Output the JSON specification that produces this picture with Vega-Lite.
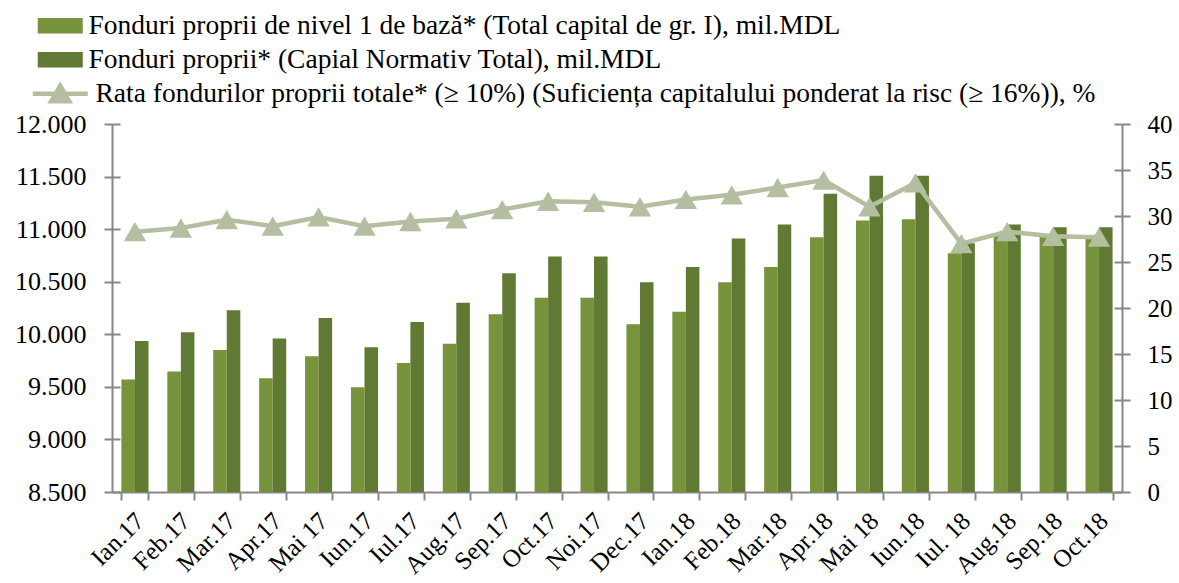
{
  "$schema": "https://vega.github.io/schema/vega-lite/v6.json",
  "width": 1010,
  "height": 368,
  "autosize": {"type": "none"},
  "padding": {"left": 112, "top": 124, "right": 57, "bottom": 91},
  "background": "white",
  "config": {
    "view": {"stroke": null},
    "font": "Liberation Serif",
    "axis": {
      "domainColor": "#878787",
      "tickColor": "#878787",
      "domainWidth": 2,
      "tickWidth": 2,
      "grid": false,
      "labelColor": "black",
      "labelFont": "Liberation Serif"
    },
    "legend": {"labelFont": "Liberation Serif", "labelColor": "black", "labelLimit": 0, "padding": 0}
  },
  "datasets": {
    "bars": [
      {"luna": "Ian.17", "serie": "Fonduri proprii de nivel 1 de bază* (Total capital de gr. I), mil.MDL", "valoare": 9570},
      {"luna": "Ian.17", "serie": "Fonduri proprii* (Capial Normativ Total), mil.MDL", "valoare": 9935},
      {"luna": "Feb.17", "serie": "Fonduri proprii de nivel 1 de bază* (Total capital de gr. I), mil.MDL", "valoare": 9645},
      {"luna": "Feb.17", "serie": "Fonduri proprii* (Capial Normativ Total), mil.MDL", "valoare": 10020},
      {"luna": "Mar.17", "serie": "Fonduri proprii de nivel 1 de bază* (Total capital de gr. I), mil.MDL", "valoare": 9850},
      {"luna": "Mar.17", "serie": "Fonduri proprii* (Capial Normativ Total), mil.MDL", "valoare": 10228},
      {"luna": "Apr.17", "serie": "Fonduri proprii de nivel 1 de bază* (Total capital de gr. I), mil.MDL", "valoare": 9583},
      {"luna": "Apr.17", "serie": "Fonduri proprii* (Capial Normativ Total), mil.MDL", "valoare": 9961},
      {"luna": "Mai 17", "serie": "Fonduri proprii de nivel 1 de bază* (Total capital de gr. I), mil.MDL", "valoare": 9790},
      {"luna": "Mai 17", "serie": "Fonduri proprii* (Capial Normativ Total), mil.MDL", "valoare": 10155},
      {"luna": "Iun.17", "serie": "Fonduri proprii de nivel 1 de bază* (Total capital de gr. I), mil.MDL", "valoare": 9497},
      {"luna": "Iun.17", "serie": "Fonduri proprii* (Capial Normativ Total), mil.MDL", "valoare": 9876},
      {"luna": "Iul.17", "serie": "Fonduri proprii de nivel 1 de bază* (Total capital de gr. I), mil.MDL", "valoare": 9726},
      {"luna": "Iul.17", "serie": "Fonduri proprii* (Capial Normativ Total), mil.MDL", "valoare": 10117},
      {"luna": "Aug.17", "serie": "Fonduri proprii de nivel 1 de bază* (Total capital de gr. I), mil.MDL", "valoare": 9910},
      {"luna": "Aug.17", "serie": "Fonduri proprii* (Capial Normativ Total), mil.MDL", "valoare": 10300},
      {"luna": "Sep.17", "serie": "Fonduri proprii de nivel 1 de bază* (Total capital de gr. I), mil.MDL", "valoare": 10190},
      {"luna": "Sep.17", "serie": "Fonduri proprii* (Capial Normativ Total), mil.MDL", "valoare": 10580},
      {"luna": "Oct.17", "serie": "Fonduri proprii de nivel 1 de bază* (Total capital de gr. I), mil.MDL", "valoare": 10348},
      {"luna": "Oct.17", "serie": "Fonduri proprii* (Capial Normativ Total), mil.MDL", "valoare": 10739},
      {"luna": "Noi.17", "serie": "Fonduri proprii de nivel 1 de bază* (Total capital de gr. I), mil.MDL", "valoare": 10348},
      {"luna": "Noi.17", "serie": "Fonduri proprii* (Capial Normativ Total), mil.MDL", "valoare": 10739},
      {"luna": "Dec.17", "serie": "Fonduri proprii de nivel 1 de bază* (Total capital de gr. I), mil.MDL", "valoare": 10095},
      {"luna": "Dec.17", "serie": "Fonduri proprii* (Capial Normativ Total), mil.MDL", "valoare": 10495},
      {"luna": "Ian.18", "serie": "Fonduri proprii de nivel 1 de bază* (Total capital de gr. I), mil.MDL", "valoare": 10215},
      {"luna": "Ian.18", "serie": "Fonduri proprii* (Capial Normativ Total), mil.MDL", "valoare": 10641},
      {"luna": "Feb.18", "serie": "Fonduri proprii de nivel 1 de bază* (Total capital de gr. I), mil.MDL", "valoare": 10495},
      {"luna": "Feb.18", "serie": "Fonduri proprii* (Capial Normativ Total), mil.MDL", "valoare": 10910},
      {"luna": "Mar.18", "serie": "Fonduri proprii de nivel 1 de bază* (Total capital de gr. I), mil.MDL", "valoare": 10641},
      {"luna": "Mar.18", "serie": "Fonduri proprii* (Capial Normativ Total), mil.MDL", "valoare": 11044},
      {"luna": "Apr.18", "serie": "Fonduri proprii de nivel 1 de bază* (Total capital de gr. I), mil.MDL", "valoare": 10923},
      {"luna": "Apr.18", "serie": "Fonduri proprii* (Capial Normativ Total), mil.MDL", "valoare": 11336},
      {"luna": "Mai 18", "serie": "Fonduri proprii de nivel 1 de bază* (Total capital de gr. I), mil.MDL", "valoare": 11082},
      {"luna": "Mai 18", "serie": "Fonduri proprii* (Capial Normativ Total), mil.MDL", "valoare": 11507},
      {"luna": "Iun.18", "serie": "Fonduri proprii de nivel 1 de bază* (Total capital de gr. I), mil.MDL", "valoare": 11095},
      {"luna": "Iun.18", "serie": "Fonduri proprii* (Capial Normativ Total), mil.MDL", "valoare": 11507},
      {"luna": "Iul. 18", "serie": "Fonduri proprii de nivel 1 de bază* (Total capital de gr. I), mil.MDL", "valoare": 10770},
      {"luna": "Iul. 18", "serie": "Fonduri proprii* (Capial Normativ Total), mil.MDL", "valoare": 10866},
      {"luna": "Aug.18", "serie": "Fonduri proprii de nivel 1 de bază* (Total capital de gr. I), mil.MDL", "valoare": 10960},
      {"luna": "Aug.18", "serie": "Fonduri proprii* (Capial Normativ Total), mil.MDL", "valoare": 11044},
      {"luna": "Sep.18", "serie": "Fonduri proprii de nivel 1 de bază* (Total capital de gr. I), mil.MDL", "valoare": 10950},
      {"luna": "Sep.18", "serie": "Fonduri proprii* (Capial Normativ Total), mil.MDL", "valoare": 11019},
      {"luna": "Oct.18", "serie": "Fonduri proprii de nivel 1 de bază* (Total capital de gr. I), mil.MDL", "valoare": 10940},
      {"luna": "Oct.18", "serie": "Fonduri proprii* (Capial Normativ Total), mil.MDL", "valoare": 11019}
    ],
    "rate": [
      {"luna": "Ian.17", "rata": 28.3},
      {"luna": "Feb.17", "rata": 28.7},
      {"luna": "Mar.17", "rata": 29.6},
      {"luna": "Apr.17", "rata": 28.9},
      {"luna": "Mai 17", "rata": 29.9},
      {"luna": "Iun.17", "rata": 28.9},
      {"luna": "Iul.17", "rata": 29.4},
      {"luna": "Aug.17", "rata": 29.7},
      {"luna": "Sep.17", "rata": 30.7},
      {"luna": "Oct.17", "rata": 31.6},
      {"luna": "Noi.17", "rata": 31.5},
      {"luna": "Dec.17", "rata": 31.0},
      {"luna": "Ian.18", "rata": 31.8},
      {"luna": "Feb.18", "rata": 32.3},
      {"luna": "Mar.18", "rata": 33.1},
      {"luna": "Apr.18", "rata": 33.9},
      {"luna": "Mai 18", "rata": 31.0},
      {"luna": "Iun.18", "rata": 33.6},
      {"luna": "Iul. 18", "rata": 27.0},
      {"luna": "Aug.18", "rata": 28.3},
      {"luna": "Sep.18", "rata": 27.8},
      {"luna": "Oct.18", "rata": 27.7}
    ]
  },
  "encoding": {
    "x": {
      "field": "luna",
      "type": "nominal",
      "sort": null,
      "title": null,
      "scale": {
        "domain": ["Ian.17", "Feb.17", "Mar.17", "Apr.17", "Mai 17", "Iun.17", "Iul.17", "Aug.17", "Sep.17", "Oct.17", "Noi.17", "Dec.17", "Ian.18", "Feb.18", "Mar.18", "Apr.18", "Mai 18", "Iun.18", "Iul. 18", "Aug.18", "Sep.18", "Oct.18"],
        "paddingInner": 0.41,
        "paddingOuter": 0.205
      },
      "axis": {
        "title": null,
        "labelAngle": -45,
        "labelAlign": "right",
        "labelBaseline": "top",
        "labelFontSize": 25,
        "labelOffset": -4,
        "tickBand": "extent",
        "tickSize": 8,
        "labelPadding": 8
      }
    }
  },
  "layer": [
    {
      "data": {"name": "bars"},
      "layer": [
        {
          "mark": {"type": "bar", "clip": true},
          "encoding": {
            "xOffset": {
              "field": "serie",
              "type": "nominal",
              "sort": null,
              "scale": {"domain": ["Fonduri proprii de nivel 1 de bază* (Total capital de gr. I), mil.MDL", "Fonduri proprii* (Capial Normativ Total), mil.MDL"], "paddingInner": 0, "paddingOuter": 0}
            },
            "y": {
              "field": "valoare",
              "type": "quantitative",
              "scale": {"domain": [8500, 12000], "zero": false, "nice": false},
              "axis": {
                "title": null,
                "values": [8500, 9000, 9500, 10000, 10500, 11000, 11500, 12000],
                "labelExpr": "replace(format(datum.value, ',.0f'), ',', '.')",
                "labelFontSize": 26,
                "tickSize": 8,
                "labelPadding": 18
              }
            },
            "color": {
              "field": "serie",
              "type": "nominal",
              "sort": null,
              "scale": {
                "domain": ["Fonduri proprii de nivel 1 de bază* (Total capital de gr. I), mil.MDL", "Fonduri proprii* (Capial Normativ Total), mil.MDL"],
                "range": ["#77933C", "#617A33"]
              },
              "legend": {
                "orient": "none",
                "legendX": -65.5,
                "legendY": -112,
                "title": null,
                "symbolType": "M-2.25,-0.78H2.25V0.78H-2.25Z",
                "symbolSize": 400,
                "symbolStrokeWidth": 0,
                "labelFontSize": 27.5,
                "labelOffset": 14.5,
                "rowPadding": 5
              }
            }
          }
        },
        {
          "mark": {"type": "bar", "opacity": 0, "clip": true},
          "encoding": {
            "y": {
              "field": "valoare",
              "type": "quantitative",
              "axis": {
                "title": null,
                "orient": "left",
                "values": [8500, 9000, 9500, 10000, 10500, 11000, 11500, 12000],
                "labels": false,
                "domain": false,
                "tickSize": -8
              }
            }
          }
        }
      ],
      "resolve": {"axis": {"y": "independent"}}
    },
    {
      "data": {"name": "rate"},
      "layer": [
        {
          "mark": {"type": "line", "strokeWidth": 4.5},
          "encoding": {
            "y": {
              "field": "rata",
              "type": "quantitative",
              "scale": {"domain": [0, 40], "nice": false},
              "axis": {
                "title": null,
                "orient": "right",
                "values": [0, 5, 10, 15, 20, 25, 30, 35, 40],
                "labelFontSize": 25,
                "tickSize": 8,
                "labelPadding": 17
              }
            },
            "stroke": {
              "datum": "Rata fondurilor proprii totale* (≥ 10%) (Suficiența capitalului ponderat la risc (≥ 16%)), %",
              "type": "nominal",
              "scale": {"range": ["#B3BFA0"]},
              "legend": {
                "orient": "none",
                "legendX": -65.5,
                "legendY": -44,
                "title": null,
                "symbolType": "M-2.75,0H2.75M-0.9,0.75L0,-0.8L0.9,0.75Z",
                "symbolSize": 400,
                "symbolStrokeWidth": 4.5,
                "symbolFillColor": "#B3BFA0",
                "labelFontSize": 27.5,
                "labelOffset": 21.5
              }
            }
          }
        },
        {
          "mark": {"type": "point", "shape": "triangle-up", "size": 500, "filled": true, "color": "#B3BFA0", "opacity": 1},
          "encoding": {
            "y": {
              "field": "rata",
              "type": "quantitative",
              "axis": {
                "title": null,
                "orient": "right",
                "values": [0, 5, 10, 15, 20, 25, 30, 35, 40],
                "labels": false,
                "domain": false,
                "tickSize": -8
              }
            }
          }
        }
      ],
      "resolve": {"axis": {"y": "independent"}}
    }
  ],
  "resolve": {"scale": {"y": "independent"}}
}
